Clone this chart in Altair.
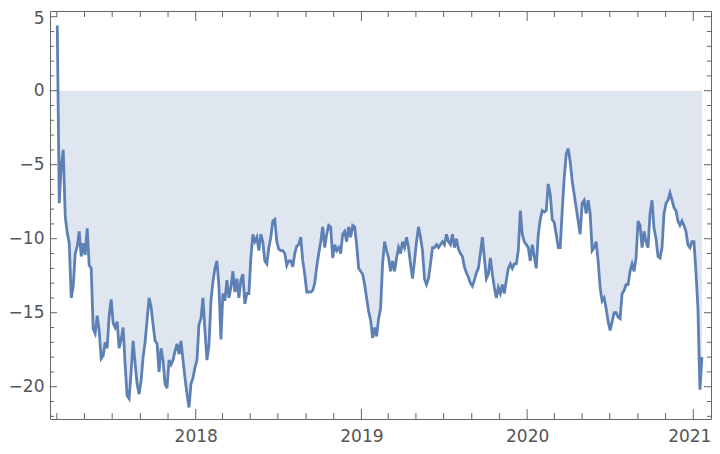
import altair as alt
import pandas as pd

# ---- data ----
start_date = "2017-03-02"
end_date = "2021-01-20"
values = [
    4.4, -7.6, -5.0, -4.0, -8.5, -9.6, -10.3, -14.0, -13.2, -11.0,
    -10.5, -9.5, -11.2, -10.3, -11.1, -9.3, -11.8, -12.0, -16.1, -16.4,
    -15.2, -16.2, -18.1, -17.9, -17.0, -17.4, -15.2, -14.1, -15.7, -16.0,
    -15.6, -17.4, -16.8, -16.0, -18.5, -20.6, -20.8, -19.0, -16.9, -18.4,
    -19.8, -20.5, -19.6, -18.0, -17.0, -15.5, -14.0, -14.6, -15.8, -16.9,
    -17.1, -19.0, -17.4, -18.2, -19.8, -20.1, -18.2, -18.5, -18.2, -17.6,
    -17.1, -17.8, -16.9, -18.2, -19.4, -20.5, -21.4, -19.8, -19.4, -18.7,
    -18.2, -15.8, -15.4, -14.0, -16.2, -18.2, -17.2, -14.2, -12.9, -12.0,
    -11.5, -13.2, -16.8, -13.7, -14.2, -12.8, -14.0, -13.3, -12.2, -13.6,
    -12.7, -14.0, -12.8, -12.4, -14.4, -13.7, -13.7, -11.3, -9.7, -10.2,
    -9.9, -10.8, -9.7, -10.2, -11.5, -11.7, -10.6, -9.9, -8.8, -8.7,
    -10.2, -10.7, -10.8, -10.8, -11.0, -11.8, -11.5, -11.5, -11.9, -11.0,
    -10.5, -10.4, -9.9, -11.5, -12.4, -13.6, -13.6, -13.6, -13.5, -13.0,
    -11.9, -11.0, -10.2, -9.2, -10.6, -9.7, -9.1, -9.2, -11.3, -10.4,
    -10.8, -10.6, -11.0, -9.7, -9.5, -10.2, -9.2, -9.9, -9.1, -9.2,
    -10.4, -12.0, -12.2, -12.4, -13.1, -14.0, -14.9, -15.5, -16.7, -16.0,
    -16.6, -15.4, -14.7, -11.7, -10.2, -10.8, -11.3, -12.2, -11.5, -12.2,
    -11.3, -10.6, -11.0, -10.2, -10.6, -9.9, -10.6, -11.7, -12.7, -11.5,
    -10.2, -9.2, -9.9, -10.8, -12.7, -13.1, -12.7, -11.7, -10.6, -10.6,
    -10.4, -10.6, -10.4, -10.2, -10.4, -9.7, -10.2, -10.4, -9.7, -10.6,
    -10.0, -10.7, -11.0, -11.2, -11.9, -12.3, -12.6, -13.0, -13.2, -12.8,
    -12.3, -12.0, -11.0, -9.9, -11.3, -12.7, -12.4, -11.3, -12.4, -13.3,
    -14.0, -13.3, -13.7, -13.1, -13.7, -12.8, -12.0, -11.7, -12.0, -11.7,
    -11.7, -10.8, -8.1, -9.7, -10.2, -10.4, -10.6, -11.5, -10.4, -11.2,
    -12.0, -9.7, -8.7, -8.1, -8.2, -8.1, -6.3, -7.0, -8.7, -8.9,
    -9.7, -10.6, -10.6, -8.1, -5.9, -4.3, -3.9, -4.8, -6.1, -7.0,
    -7.9, -8.8, -9.7, -7.6, -7.4, -8.3, -7.4, -8.3, -10.8, -10.6,
    -10.2, -11.5, -13.3, -14.2, -14.0, -14.7, -15.6, -16.2, -15.6, -15.0,
    -15.0, -15.3, -15.4, -13.7, -13.5, -13.1, -13.1, -12.2, -11.7, -12.2,
    -11.3, -8.8, -9.1, -10.6, -9.5, -10.2, -10.6, -8.3, -7.4, -9.3,
    -10.0, -11.2, -11.3, -10.6, -8.3, -7.6, -7.4, -6.9, -7.4, -7.9,
    -8.1, -8.8, -9.1, -8.8, -9.1, -9.5, -10.4, -10.6, -10.2, -10.2,
    -12.2, -14.7, -20.2, -18.0,
]

x_major_ticks = ["2018-01-01", "2019-01-01", "2020-01-01", "2021-01-01"]
x_minor_ticks = [
    "2017-03-01", "2017-05-01", "2017-07-01", "2017-09-01", "2017-11-01",
    "2018-03-01", "2018-05-01", "2018-07-01", "2018-09-01", "2018-11-01",
    "2019-03-01", "2019-05-01", "2019-07-01", "2019-09-01", "2019-11-01",
    "2020-03-01", "2020-05-01", "2020-07-01", "2020-09-01", "2020-11-01",
]
y_major_ticks = [5, 0, -5, -10, -15, -20]
y_minor_ticks = [4, 3, 2, 1, -1, -2, -3, -4, -6, -7, -8, -9, -11, -12, -13, -14,
                 -16, -17, -18, -19, -21, -22]

x_domain = ["2017-02-14", "2021-02-09"]
y_domain = [-22.18, 5.385]

# ---- styling ----
W, H = 661, 408
LINE = "#5E81B5"
FRAME = "#666666"
LABEL = "#555555"
FONT = "DejaVu Sans"
FS = 17

dates = pd.date_range(start_date, end_date, periods=len(values))
df = pd.DataFrame({"date": dates, "value": values})


def dt(s):
    t = pd.Timestamp(s)
    return alt.DateTime(year=t.year, month=t.month, date=t.day)


x_scale = alt.Scale(domain=[dt(x_domain[0]), dt(x_domain[1])])
y_scale = alt.Scale(domain=y_domain, nice=False, zero=False)

X = alt.X("date:T", scale=x_scale, title=None,
          axis=alt.Axis(values=[dt(s) for s in x_major_ticks], format="%Y",
                        ticks=False, domain=False, grid=False, labelPadding=9,
                        labelFlush=False, labelFont=FONT, labelFontSize=FS,
                        labelColor=LABEL,
                        labelOffset={"expr": "datum.value > time(datetime(2020, 6, 1)) ? -4 : 0"}))
Y = alt.Y("value:Q", scale=y_scale, title=None,
          axis=alt.Axis(values=y_major_ticks, ticks=False, domain=False,
                        grid=False, labelPadding=6, labelFlush=False,
                        labelFont=FONT, labelFontSize=FS, labelColor=LABEL,
                        labelOffset={"expr": "datum.value > 4 ? 2 : 0"}))

area = alt.Chart(df).mark_area(color=LINE, opacity=0.2).encode(
    x=X, y=Y, y2=alt.datum(0))
line = alt.Chart(df).mark_line(color=LINE, strokeWidth=2.8).encode(x=X, y=Y)

xmaj = pd.DataFrame({"date": pd.to_datetime(x_major_ticks)})
xmin = pd.DataFrame({"date": pd.to_datetime(x_minor_ticks)})
ymaj = pd.DataFrame({"value": y_major_ticks})
ymin = pd.DataFrame({"value": y_minor_ticks})


def xticks(d, ln):
    b = alt.Chart(d).mark_rule(color=FRAME, strokeWidth=1).encode(
        x=X, y=alt.value(H), y2=alt.value(H - ln))
    t = alt.Chart(d).mark_rule(color=FRAME, strokeWidth=1).encode(
        x=X, y=alt.value(0), y2=alt.value(ln))
    return [b, t]


def yticks(d, ln):
    l = alt.Chart(d).mark_rule(color=FRAME, strokeWidth=1).encode(
        y=Y, x=alt.value(0), x2=alt.value(ln))
    r = alt.Chart(d).mark_rule(color=FRAME, strokeWidth=1).encode(
        y=Y, x=alt.value(W), x2=alt.value(W - ln))
    return [l, r]


layers = [area, line] + xticks(xmaj, 10) + xticks(xmin, 6) + yticks(ymaj, 7) + yticks(ymin, 4)

chart = alt.layer(*layers).properties(
    width=W, height=H,
    autosize=alt.AutoSizeParams(type="none"),
    padding={"left": 42, "top": 3, "right": 1, "bottom": 27},
    background="white",
).configure_view(stroke=FRAME, strokeWidth=1)

chart.save("out.html", embed_options={"renderer": "svg", "actions": False})
